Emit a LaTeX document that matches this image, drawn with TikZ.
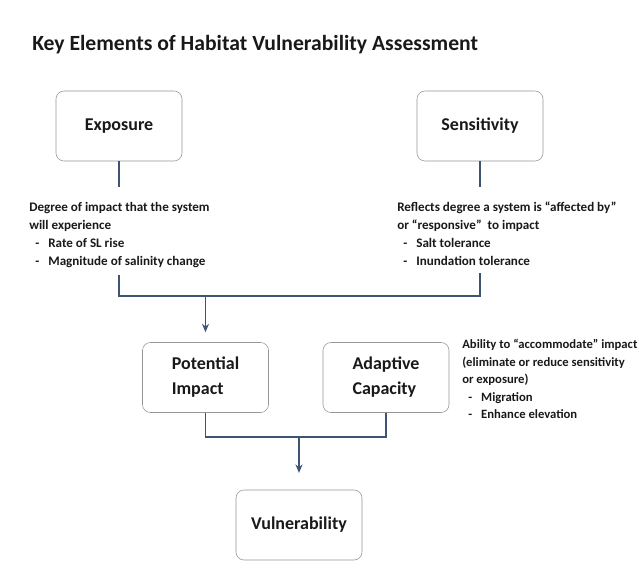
\documentclass[tikz,border=0pt]{standalone}
\usepackage{fontspec}
\setmainfont{Carlito}
\usetikzlibrary{positioning,arrows.meta}

\definecolor{linkblue}{RGB}{62,84,115}
\definecolor{boxgray}{RGB}{150,150,150}
\definecolor{inkblack}{RGB}{25,25,25}

\newcommand{\dashitem}[1]{\hspace*{4.3pt}-\hspace{6.4pt}#1}

\tikzset{
  elembox/.style={draw=boxgray, fill=white, rounded corners=0.2cm,
    minimum width=3.15cm, minimum height=1.75cm, text=inkblack, align=left,
    font=\fontsize{12.8}{17.8}\selectfont\bfseries},
  desc/.style={text=inkblack, align=left, inner xsep=0pt, inner ysep=0.25cm,
    font=\fontsize{9.3}{12.8}\selectfont\bfseries},
  link/.style={draw=linkblue, line width=1pt},
  linkarrow/.style={link, -{Stealth[length=6pt,width=5pt]}}
}

\begin{document}
\begin{tikzpicture}[x=0.025cm, y=-0.025cm]
  \useasboundingbox (0,0) rectangle (639,579);

  % title
  \node[anchor=west, inner sep=0pt, text=inkblack,
    font=\fontsize{15.4}{17}\selectfont\bfseries] (title) at (32,45)
    {Key Elements of Habitat Vulnerability Assessment};

  % the two inputs
  \node[elembox] (exposure) at (119,126) {Exposure};
  \node[elembox] (sensitivity) at (480,126) {Sensitivity};

  \node[desc, anchor=north west] (expotext) at (29,192)
    {Degree of impact that the system\\
     will experience\\
     \dashitem{Rate of SL rise}\\
     \dashitem{Magnitude of salinity change}};
  \node[desc, anchor=north west] (senstext) at (397,192)
    {Reflects degree a system is “affected by”\\
     or “responsive”\ \ to impact\\
     \dashitem{Salt tolerance}\\
     \dashitem{Inundation tolerance}};

  % middle row
  \node[elembox] (potential) at (205.5,377.5) {Potential\\Impact};
  \node[elembox] (capacity) at (386,377.5) {Adaptive\\Capacity};
  \node[desc, anchor=north west, font=\fontsize{9.0}{12.5}\selectfont\bfseries]
    (capatext) at (462,329)
    {Ability to “accommodate” impact\\
     (eliminate or reduce sensitivity\\
     or exposure)\\
     \dashitem{Migration}\\
     \dashitem{Enhance elevation}};

  % result
  \node[elembox] (vulnerability) at (299,525) {Vulnerability};

  % connectors
  \coordinate (topbar) at (0,296);
  \coordinate (lowbar) at (0,437);
  \draw[link] (exposure.south) -- ([yshift=0.125cm]exposure.south |- expotext.north);
  \draw[link] (sensitivity.south) -- ([yshift=0.125cm]sensitivity.south |- senstext.north);
  \draw[link] ([yshift=0.075cm]exposure.south |- expotext.south) -- (exposure.south |- topbar)
    -- (sensitivity.south |- topbar) -- ([yshift=0.075cm]sensitivity.south |- senstext.south);
  \draw[linkarrow, shorten >=0.25cm] (potential.north |- topbar) -- (potential.north);
  \draw[link] (potential.south) -- (potential.south |- lowbar)
    -- (capacity.south |- lowbar) -- (capacity.south);
  \draw[linkarrow, shorten >=0.42cm] (vulnerability.north |- lowbar) -- (vulnerability.north);
\end{tikzpicture}
\end{document}
